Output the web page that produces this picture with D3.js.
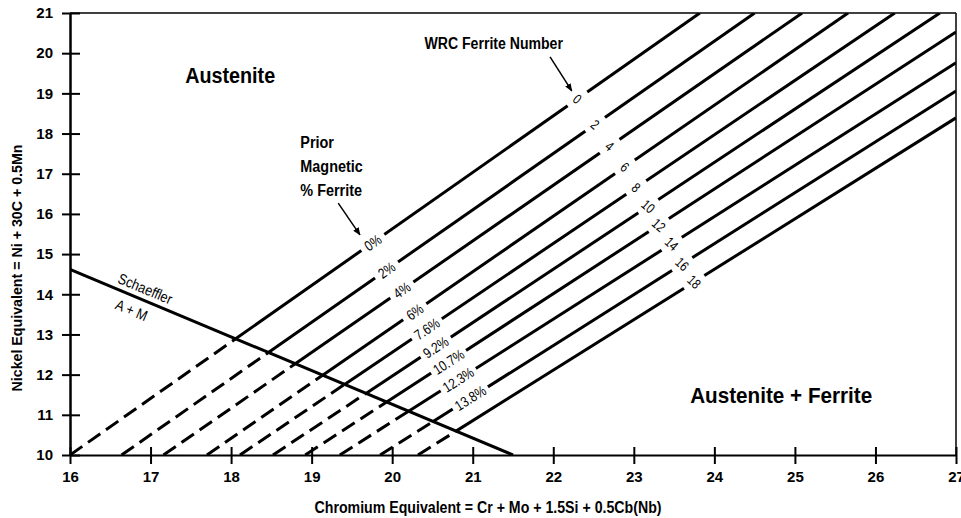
<!DOCTYPE html>
<html>
<head>
<meta charset="utf-8">
<script src="https://cdn.jsdelivr.net/npm/d3@7"></script>
<style>
  html, body { margin: 0; padding: 0; background: #fff; }
  svg { display: block; }
  text { font-family: "Liberation Sans", Arial, sans-serif; font-weight: bold; fill: #000; }
</style>
</head>
<body>
<svg id="chart" width="961" height="518"></svg>
<script>
// ---------------- data ----------------
const crTicks = [16, 17, 18, 19, 20, 21, 22, 23, 24, 25, 26, 27];
const niTicks = [10, 11, 12, 13, 14, 15, 16, 17, 18, 19, 20, 21];

// WRC ferrite number iso-lines: start on Ni=10, end at top/right edge
const fnNumbers = [0, 2, 4, 6, 8, 10, 12, 14, 16, 18];
const fnStartCr = [16.00, 16.64, 17.16, 17.70, 18.11, 18.52, 18.92, 19.35, 19.85, 20.32];
const fnEndCr   = [23.82, 24.50, 25.09, 25.66, 26.24, 26.80, 27.00, 27.00, 27.00, 27.00];
const fnEndNi   = [21.00, 21.00, 21.00, 21.00, 21.00, 21.00, 20.53, 19.76, 19.06, 18.39];
const fnLabelCr = [22.30, 22.52, 22.70, 22.89, 23.03, 23.18, 23.31, 23.47, 23.60, 23.75];

// Prior magnetic % ferrite labels (on lines 0..16)
const ferriteLabels  = ["0%", "2%", "4%", "6%", "7.6%", "9.2%", "10.7%", "12.3%", "13.8%"];
const ferriteLabelCr = [19.76, 19.93, 20.12, 20.28, 20.43, 20.54, 20.70, 20.82, 20.97];

// Schaeffler A + M boundary
const schaefflerCr = [16.0, 21.5];
const schaefflerNi = [14.62, 10.0];

// ---------------- layout ----------------
const svg = d3.select("#chart");
const x = d3.scaleLinear().domain([16, 27]).range([70, 956]);
const y = d3.scaleLinear().domain([10, 21]).range([455, 13]);

function condense(sel, k) {
  const w = sel.node().getComputedTextLength();
  sel.attr("textLength", w * k).attr("lengthAdjust", "spacingAndGlyphs");
  return sel;
}
function fitTo(sel, target) {
  sel.attr("textLength", target).attr("lengthAdjust", "spacingAndGlyphs");
  return sel;
}

const defs = svg.append("defs");
defs.append("clipPath").attr("id", "plotclip")
  .append("rect").attr("x", x(16)).attr("y", y(21))
  .attr("width", x(27) - x(16)).attr("height", y(10) - y(21));

defs.append("marker")
  .attr("id", "arrow").attr("viewBox", "0 0 10 10")
  .attr("refX", 9).attr("refY", 5)
  .attr("markerWidth", 8).attr("markerHeight", 8)
  .attr("markerUnits", "userSpaceOnUse")
  .attr("orient", "auto")
  .append("path").attr("d", "M0,1 L10,5 L0,9 Z").attr("fill", "#000");

// frame (top & right)
svg.append("line").attr("x1", x(16)).attr("x2", x(27)).attr("y1", y(21)).attr("y2", y(21))
  .attr("stroke", "#000").attr("stroke-width", 1.5);
svg.append("line").attr("x1", x(27)).attr("x2", x(27)).attr("y1", y(21)).attr("y2", y(10))
  .attr("stroke", "#000").attr("stroke-width", 1.5);

const plot = svg.append("g").attr("clip-path", "url(#plotclip)");

const sSlope = (schaefflerNi[1] - schaefflerNi[0]) / (schaefflerCr[1] - schaefflerCr[0]);
function schNi(cr) { return schaefflerNi[0] + sSlope * (cr - schaefflerCr[0]); }

// FN lines: dashed below the Schaeffler line, solid above
fnNumbers.forEach((fn, i) => {
  const x0 = fnStartCr[i], y0 = 10, x1 = fnEndCr[i], y1 = fnEndNi[i];
  const m = (y1 - y0) / (x1 - x0);
  const cx = (y0 - m * x0 - schaefflerNi[0] + sSlope * schaefflerCr[0]) / (sSlope - m);
  const cy = y0 + m * (cx - x0);
  plot.append("line")
    .attr("x1", x(x0)).attr("y1", y(y0)).attr("x2", x(cx)).attr("y2", y(cy))
    .attr("stroke", "#000").attr("stroke-width", 3).attr("stroke-dasharray", "15,7");
  plot.append("line")
    .attr("x1", x(cx)).attr("y1", y(cy)).attr("x2", x(x1)).attr("y2", y(y1))
    .attr("stroke", "#000").attr("stroke-width", 3);
});

plot.append("line")
  .attr("x1", x(schaefflerCr[0])).attr("y1", y(schaefflerNi[0]))
  .attr("x2", x(schaefflerCr[1])).attr("y2", y(schaefflerNi[1]))
  .attr("stroke", "#000").attr("stroke-width", 3);

function lineAt(i, cr) {
  const m = (fnEndNi[i] - 10) / (fnEndCr[i] - fnStartCr[i]);
  return 10 + m * (cr - fnStartCr[i]);
}
function lineAngle(i) {
  const dx = x(fnEndCr[i]) - x(fnStartCr[i]);
  const dy = y(fnEndNi[i]) - y(10);
  return Math.atan2(dy, dx) * 180 / Math.PI;
}

// FN labels
fnNumbers.forEach((fn, i) => {
  const px = x(fnLabelCr[i]), py = y(lineAt(i, fnLabelCr[i]));
  const a = lineAngle(i);
  const g = svg.append("g").attr("transform", `translate(${px},${py}) rotate(${a})`);
  g.append("rect").attr("x", -12).attr("y", -4).attr("width", 24).attr("height", 8).attr("fill", "#fff");
  const t = g.append("text").attr("transform", "rotate(75)")
    .attr("text-anchor", "middle").attr("dy", "0.36em")
    .style("font-weight", "normal").style("font-size", "14px").text(fn);
  condense(t, 0.8);
});

// % ferrite labels
ferriteLabels.forEach((lab, i) => {
  const px = x(ferriteLabelCr[i]), py = y(lineAt(i, ferriteLabelCr[i]));
  const a = lineAngle(i);
  const g = svg.append("g").attr("transform", `translate(${px},${py}) rotate(${a})`);
  const t = g.append("text").attr("text-anchor", "middle").attr("dy", "0.36em")
    .style("font-weight", "normal").style("font-size", "14.5px").text(lab);
  condense(t, 0.82);
  const w = t.node().getComputedTextLength() * 0.82;
  g.insert("rect", "text").attr("x", -w / 2 - 7).attr("y", -4).attr("width", w + 14).attr("height", 8).attr("fill", "#fff");
});

// Axes
const xAxis = svg.append("g").attr("transform", `translate(0,${y(10)})`)
  .call(d3.axisBottom(x).tickValues(crTicks).tickFormat(d3.format("d")).tickSizeOuter(0));
xAxis.select(".domain").attr("stroke", "#000").attr("stroke-width", 2);
xAxis.selectAll(".tick line").attr("y1", -8).attr("y2", 9).attr("stroke-width", 2);
xAxis.selectAll(".tick text").attr("y", 0).attr("dy", 27).style("font-size", "15px");

const yAxis = svg.append("g").attr("transform", `translate(${x(16)},0)`)
  .call(d3.axisLeft(y).tickValues(niTicks).tickFormat(d3.format("d")).tickSizeOuter(0));
yAxis.select(".domain").attr("stroke", "#000").attr("stroke-width", 2.5);
yAxis.selectAll(".tick line").attr("x1", -8).attr("x2", 10).attr("stroke-width", 2);
yAxis.selectAll(".tick text").attr("x", -17).style("font-size", "15px");
svg.selectAll(".tick text").style("font-family", "'Liberation Sans', Arial, sans-serif").style("font-weight", "bold");

// Axis titles
fitTo(svg.append("text").attr("x", 488).attr("y", 513).attr("text-anchor", "middle")
  .style("font-size", "16px").text("Chromium Equivalent = Cr + Mo + 1.5Si + 0.5Cb(Nb)"), 347);
fitTo(svg.append("text").attr("transform", "translate(22,268) rotate(-90)").attr("text-anchor", "middle")
  .style("font-size", "15px").text("Nickel Equivalent = Ni + 30C + 0.5Mn"), 247);

// Region labels
fitTo(svg.append("text").attr("x", x(17.43)).attr("y", y(19.26)).style("font-size", "22px").text("Austenite"), 90);
fitTo(svg.append("text").attr("x", x(23.70)).attr("y", y(11.29)).style("font-size", "22px").text("Austenite + Ferrite"), 182);

// WRC label + arrow
condense(svg.append("text").attr("x", x(22.12)).attr("y", y(20.10)).attr("text-anchor", "end")
  .style("font-size", "16px").text("WRC Ferrite Number"), 0.88);
svg.append("line").attr("x1", x(21.96)).attr("y1", y(19.91)).attr("x2", x(22.23)).attr("y2", y(19.06))
  .attr("stroke", "#000").attr("stroke-width", 1.5).attr("marker-end", "url(#arrow)");

// Prior magnetic label + arrow
const priorLines = ["Prior", "Magnetic", "% Ferrite"];
priorLines.forEach((t, k) => {
  condense(svg.append("text").attr("x", x(18.86)).attr("y", y(17.64 - k * 0.6))
    .style("font-size", "16px").text(t), 0.9);
});
svg.append("line").attr("x1", x(19.33)).attr("y1", y(16.27)).attr("x2", x(19.60)).attr("y2", y(15.48))
  .attr("stroke", "#000").attr("stroke-width", 1.5).attr("marker-end", "url(#arrow)");

// Schaeffler labels
const sAng = Math.atan2(y(schaefflerNi[1]) - y(schaefflerNi[0]), x(schaefflerCr[1]) - x(schaefflerCr[0])) * 180 / Math.PI;
condense(svg.append("text").attr("transform", `translate(${x(16.88)},${y(schNi(16.88))}) rotate(${sAng})`)
  .attr("text-anchor", "middle").attr("dy", -6).style("font-size", "15px").style("font-weight", "normal").text("Schaeffler"), 0.85);
condense(svg.append("text").attr("transform", `translate(${x(16.83)},${y(schNi(16.83))}) rotate(${sAng})`)
  .attr("text-anchor", "middle").attr("dy", 19).style("font-size", "15px").style("font-weight", "normal").text("A + M"), 0.85);
</script>
</body>
</html>
